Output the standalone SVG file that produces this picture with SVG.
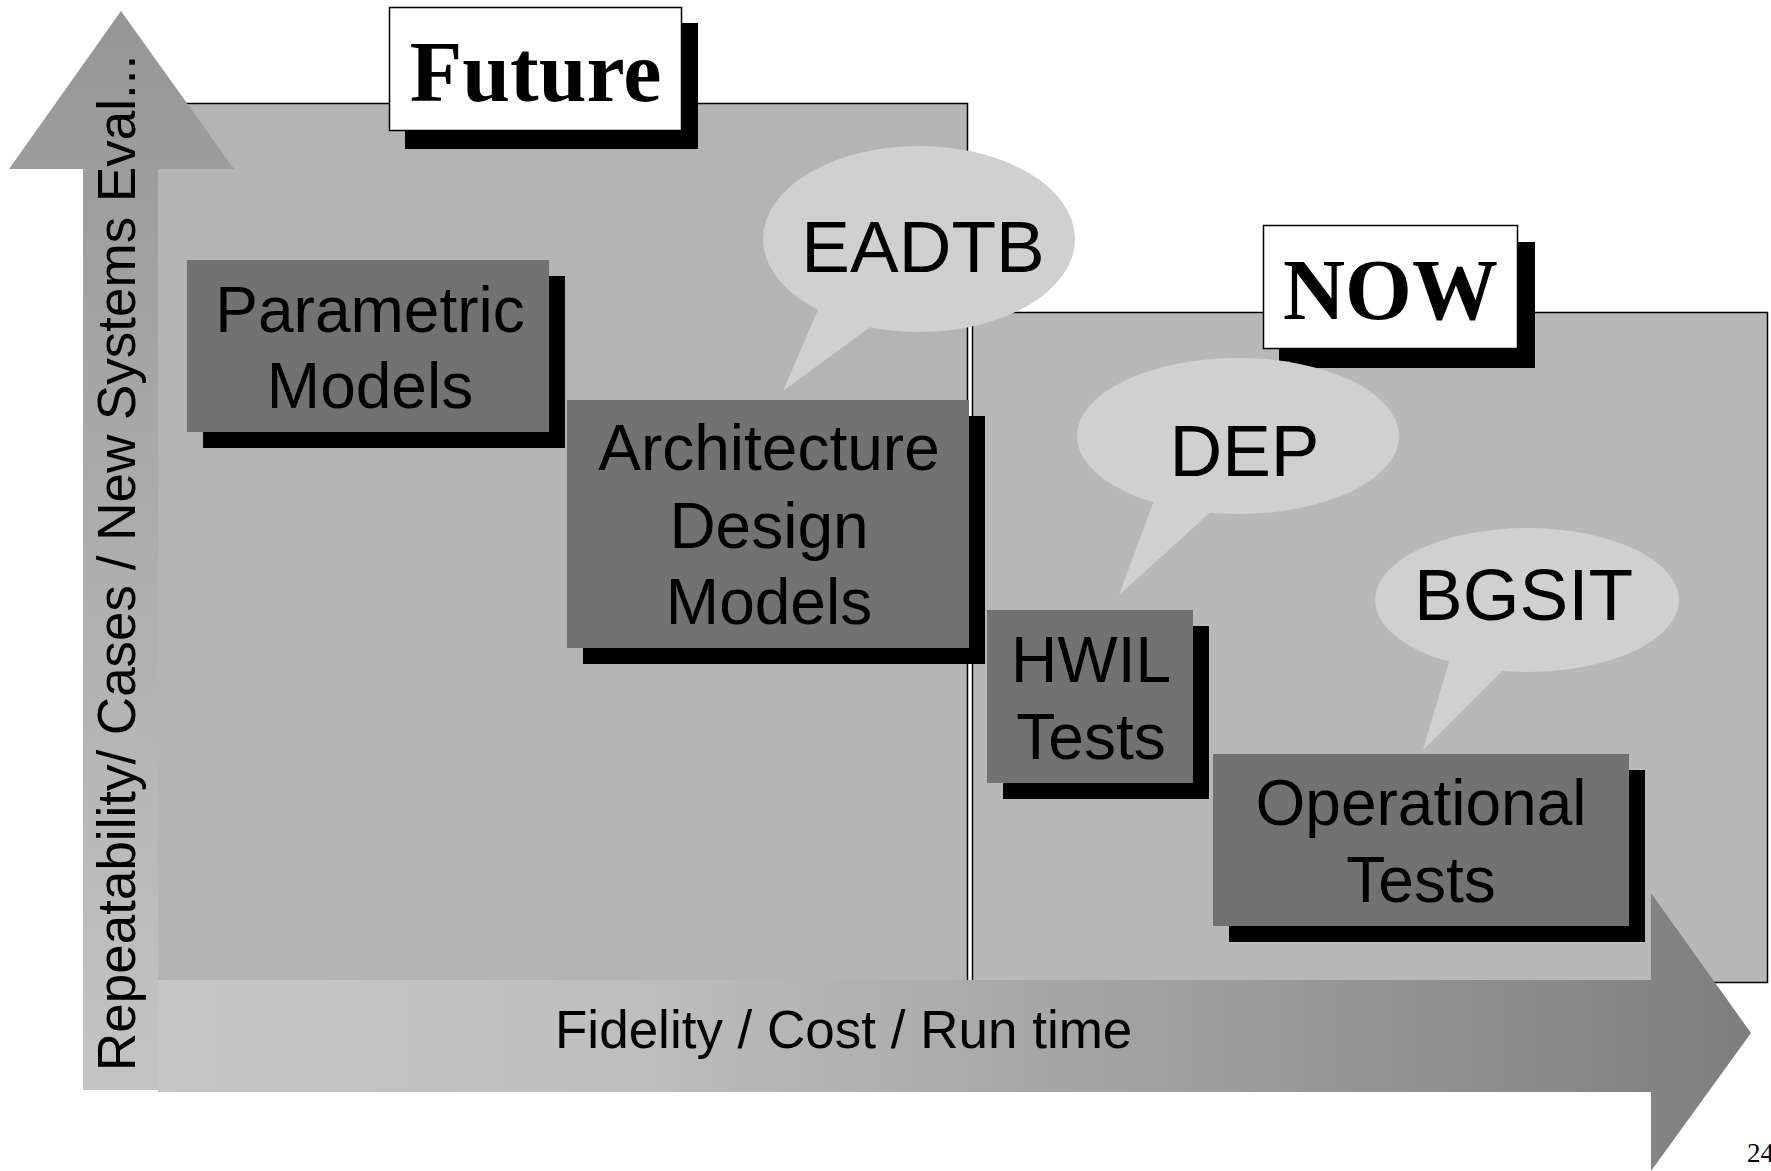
<svg xmlns="http://www.w3.org/2000/svg" width="1771" height="1171" viewBox="0 0 1771 1171">
  <defs>
    <linearGradient id="gH" gradientUnits="userSpaceOnUse" x1="158" y1="0" x2="1751" y2="0">
      <stop offset="0" stop-color="#c6c6c6"/>
      <stop offset="0.3" stop-color="#bebebe"/>
      <stop offset="1" stop-color="#7e7e7e"/>
    </linearGradient>
    <linearGradient id="gV" gradientUnits="userSpaceOnUse" x1="0" y1="11" x2="0" y2="1090">
      <stop offset="0" stop-color="#969696"/>
      <stop offset="1" stop-color="#c4c4c4"/>
    </linearGradient>
    <style>
      .panelF { fill: #b4b4b4; }
      .panelN { fill: #b8b8b8; }
      .edge { fill: none; stroke: #000; stroke-width: 1.5; }
      .shadow { fill: #000; }
      .label { fill: #fff; stroke: #000; stroke-width: 1.5; }
      .box { fill: #727272; }
      .bubble { fill: #d0d0d0; }
      .lt { font-family: "Liberation Serif", "Times New Roman", serif; font-weight: bold; font-size: 86px; fill: #000; text-anchor: middle; }
      .nt { font-family: "Liberation Sans", Arial, sans-serif; font-size: 64px; fill: #000; text-anchor: middle; }
      .bt { font-family: "Liberation Sans", Arial, sans-serif; font-size: 73px; fill: #000; text-anchor: middle; }
      .at { font-family: "Liberation Sans", Arial, sans-serif; font-size: 53px; fill: #000; }
    </style>
  </defs>

  <rect width="1771" height="1171" fill="#fff"/>

  <!-- panels -->
  <g id="panel-future">
    <rect class="panelF" x="158" y="103" width="810" height="877"/>
    <polyline class="edge" points="158,103.5 967.5,103.5 967.5,980"/>
  </g>
  <g id="panel-now">
    <rect class="panelN" x="972.5" y="312.5" width="795" height="670"/>
    <polyline class="edge" points="972.5,983 972.5,312.5 1767.5,312.5 1767.5,982.5 1640,982.5"/>
  </g>

  <g id="label-future">
    <rect class="shadow" x="405" y="23" width="293" height="126"/>
    <rect class="label" x="389.5" y="7.5" width="292" height="123"/>
    <text class="lt" x="535.5" y="101">Future</text>
  </g>
  <g id="label-now">
    <rect class="shadow" x="1279" y="242" width="256" height="126"/>
    <rect class="label" x="1263.5" y="225.5" width="254" height="123"/>
    <text class="lt" x="1390.5" y="319">NOW</text>
  </g>

  <!-- bubbles -->
  <g id="bubble-eadtb">
    <ellipse class="bubble" cx="919" cy="239" rx="156" ry="93"/>
    <polygon class="bubble" points="820,305 783,391 873,325"/>
    <text class="bt" x="923" y="272" font-size="74">EADTB</text>
  </g>
  <g id="bubble-dep">
    <ellipse class="bubble" cx="1238" cy="436" rx="161" ry="78"/>
    <polygon class="bubble" points="1155,498 1119,595 1213,510"/>
    <text class="bt" x="1244.5" y="476">DEP</text>
  </g>
  <g id="bubble-bgsit">
    <ellipse class="bubble" cx="1527" cy="600" rx="152" ry="72"/>
    <polygon class="bubble" points="1451,655 1423,750 1505,668"/>
    <text class="bt" x="1523.5" y="620">BGSIT</text>
  </g>

  <!-- nodes -->
  <g id="node-parametric">
    <rect class="shadow" x="203" y="276" width="362" height="172"/>
    <rect class="box" x="187" y="260" width="362" height="172"/>
    <text class="nt" x="370" y="332">Parametric</text>
    <text class="nt" x="370" y="408">Models</text>
  </g>
  <g id="node-architecture">
    <rect class="shadow" x="583" y="416" width="402" height="248"/>
    <rect class="box" x="567" y="400" width="402" height="248"/>
    <text class="nt" x="769" y="470">Architecture</text>
    <text class="nt" x="769" y="548">Design</text>
    <text class="nt" x="769" y="624">Models</text>
  </g>
  <g id="node-hwil">
    <rect class="shadow" x="1003" y="626" width="206" height="173"/>
    <rect class="box" x="987" y="610" width="206" height="173"/>
    <text class="nt" x="1091" y="682">HWIL</text>
    <text class="nt" x="1091" y="759">Tests</text>
  </g>
  <g id="node-operational">
    <rect class="shadow" x="1229" y="770" width="416" height="172"/>
    <rect class="box" x="1213" y="754" width="416" height="172"/>
    <text class="nt" x="1421" y="825">Operational</text>
    <text class="nt" x="1421" y="902">Tests</text>
  </g>

  <!-- axes -->
  <g id="connectors">
    <polygon fill="url(#gV)" points="121,11 234,169 158,169 158,1090 83,1090 83,169 9,169"/>
    <polygon fill="url(#gH)" points="158,980 1651,980 1651,893 1751,1033 1651,1171 1651,1092 158,1092"/>
  </g>
  <g id="axis-labels">
    <text class="at" transform="translate(135,1071) rotate(-90)">Repeatability/ Cases / New Systems Eval...</text>
    <text class="at" x="555" y="1048">Fidelity / Cost / Run time</text>
  </g>

  <text x="1747" y="1162" font-family="Liberation Serif, Times New Roman, serif" font-size="27" fill="#000">24</text>
</svg>
